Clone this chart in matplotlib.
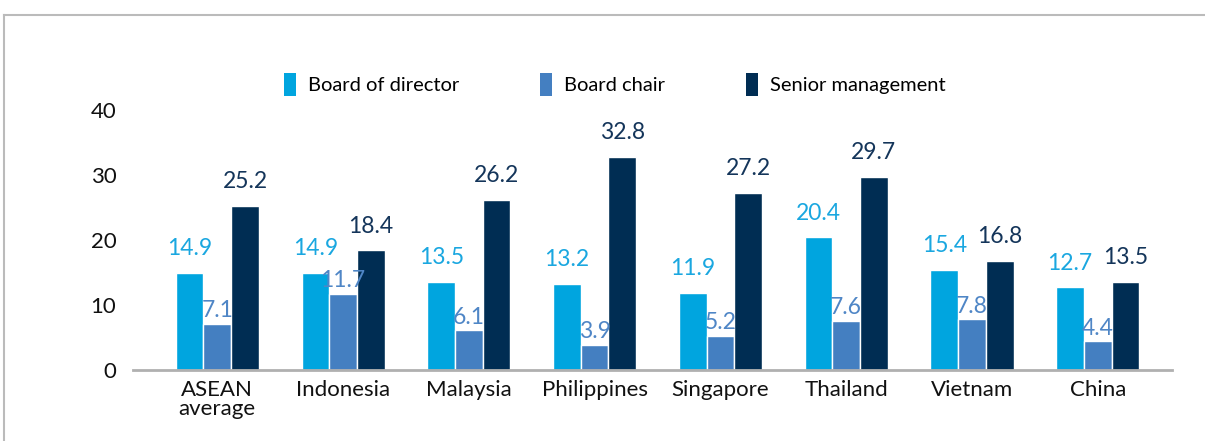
import numpy as np
import matplotlib.pyplot as plt
from matplotlib.lines import Line2D
from matplotlib.patches import Patch

plt.rcParams['font.family'] = ['Lato', 'DejaVu Sans']

countries = ['ASEAN\naverage', 'Indonesia', 'Malaysia', 'Philippines', 'Singapore',
             'Thailand', 'Vietnam', 'China']
board_director = [14.9, 14.9, 13.5, 13.2, 11.9, 20.4, 15.4, 12.7]
board_chair = [7.1, 11.7, 6.1, 3.9, 5.2, 7.6, 7.8, 4.4]
senior_mgmt = [25.2, 18.4, 26.2, 32.8, 27.2, 29.7, 16.8, 13.5]

series = [
    ('Board of director', board_director, '#00a5df', '#1aa7e0', 10),
    ('Board chair', board_chair, '#447fc1', '#4f86c6', 2),
    ('Senior management', senior_mgmt, '#002d53', '#14355a', 10),
]

fig = plt.figure(figsize=(12.05, 4.41), dpi=100)
ax = fig.add_axes([133 / 1205, 71 / 441, 1039 / 1205, 260 / 441])

x = np.arange(len(countries))
w = 0.22
handles = []
for i, (name, vals, col, tcol, off) in enumerate(series):
    pos = x + (i - 1) * w
    ax.bar(pos, vals, w, color=col, edgecolor='white', linewidth=1)
    handles.append(Patch(facecolor=col, edgecolor='none', label=name))
    for p, v in zip(pos, vals):
        ax.annotate(f'{v}', (p, v), xytext=(0, off), textcoords='offset points',
                    ha='center', va='bottom', fontsize=16.5, color=tcol,
                    annotation_clip=False)

ax.set_xlim(-0.67, 7.59)
ax.set_ylim(0, 40)
ax.set_yticks([0, 10, 20, 30, 40])
ax.set_xticks(x)
ax.set_xticklabels(countries, fontsize=16, color='#111111', linespacing=0.95)
ax.tick_params(axis='y', length=0, labelsize=16, pad=12, colors='#111111')
ax.tick_params(axis='x', length=0, pad=7)
for s in ['top', 'right', 'left']:
    ax.spines[s].set_visible(False)
ax.spines['bottom'].set_color('#b0b0b0')
ax.spines['bottom'].set_linewidth(2)

ax.legend(handles=handles, loc='lower left', bbox_to_anchor=(137 / 1039, 1.0), ncol=3,
          frameon=False, fontsize=14.5, handlelength=0.6, handleheight=1.35,
          handletextpad=0.6, columnspacing=4.0, borderaxespad=0.3)

# outer frame lines (top and left)
fig.add_artist(Line2D([4 / 1205, 1], [1 - 15 / 441, 1 - 15 / 441], color='#bbbbbb', lw=1.5))
fig.add_artist(Line2D([4 / 1205, 4 / 1205], [0, 1 - 15 / 441], color='#bbbbbb', lw=1.5))

fig.savefig('out.png', dpi=100)
